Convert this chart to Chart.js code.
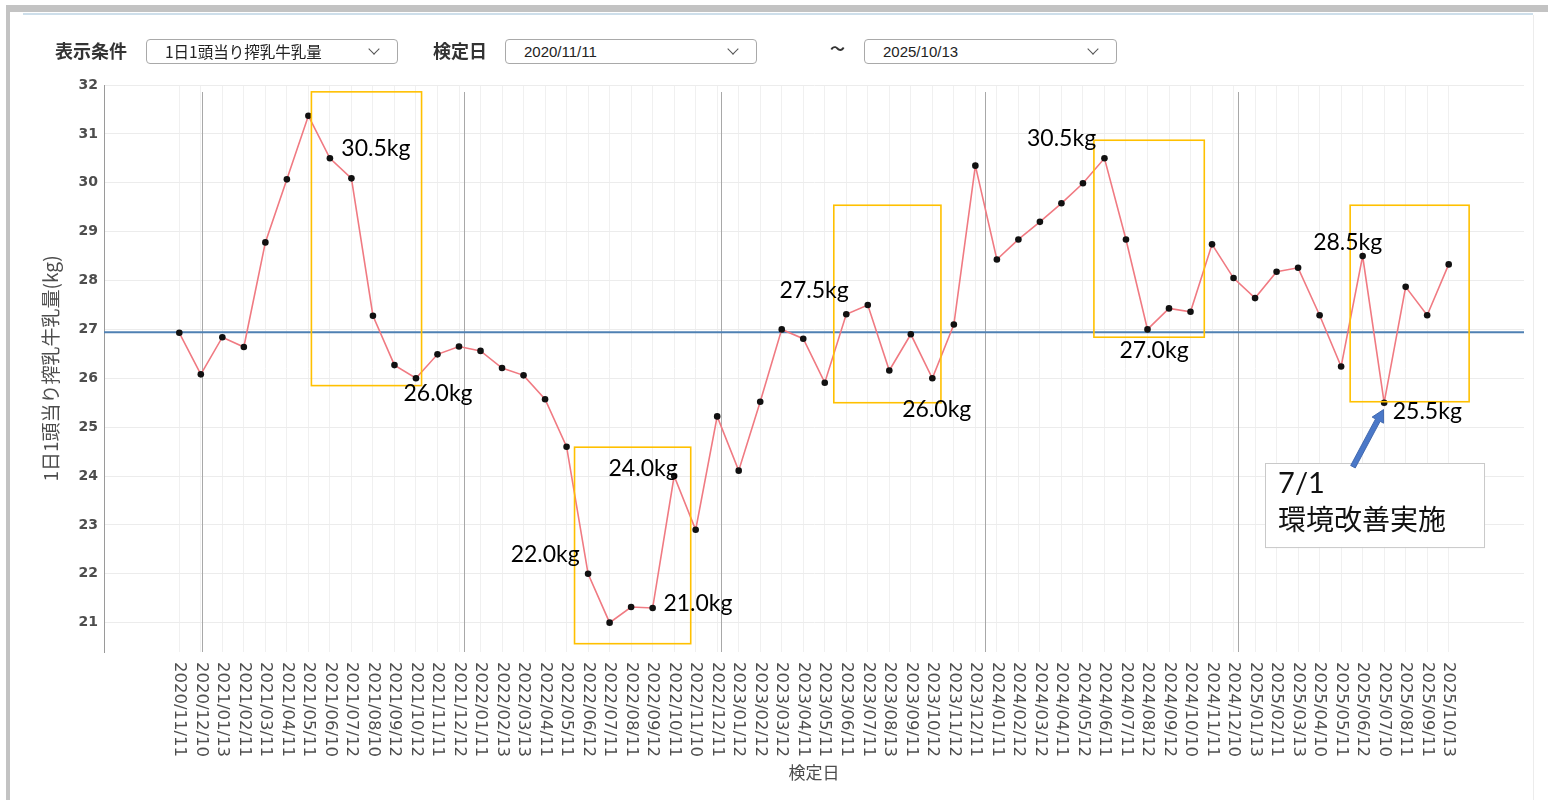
<!DOCTYPE html>
<html lang="ja">
<head>
<meta charset="utf-8">
<title>1日1頭当り搾乳牛乳量</title>
<script src="https://cdn.jsdelivr.net/npm/chart.js@4.4.1/dist/chart.umd.min.js"></script>
<style>
  html, body { margin: 0; padding: 0; background: #fff; }
  body { position: relative; width: 1548px; height: 800px; overflow: hidden; font-family: "Noto Sans CJK JP", sans-serif; }
  .frame-top { position: absolute; left: 6px; top: 5px; right: 0; height: 7px; background: #c3c3c3; }
  .frame-left { position: absolute; left: 6px; top: 5px; bottom: 0; width: 4px; background: #c3c3c3; }
  .rule-blue { position: absolute; left: 23px; top: 13px; width: 1510px; height: 2px; background: #cddeea; }
  .rule-right { position: absolute; left: 1533px; top: 15px; bottom: 0; width: 1px; background: #ececec; }
  #chart { position: absolute; left: 0; top: 0; }
  .lbl { position: absolute; top: 37px; line-height: 26px; font-size: 18px; font-weight: bold; color: #333; z-index: 2; }
  .sel { position: absolute; top: 39px; height: 23px; border: 1px solid #a9a9a9; border-radius: 4px; background: #fff;
         line-height: 23px; color: #222; z-index: 2; box-sizing: content-box; }
  .sel .txt { position: absolute; left: 18px; top: 0; }
  .sel.cond .txt { font-size: 15.5px; }
  .sel.date .txt { font-family: "Liberation Sans", Arial, sans-serif; font-size: 15px; }
  .sel .chev { position: absolute; right: 19px; top: 5px; width: 7px; height: 7px;
               border-right: 1.5px solid #555; border-bottom: 1.5px solid #555; transform: rotate(45deg); }
  .tilde { position: absolute; left: 830px; top: 37px; font-size: 15px; font-weight: bold; color: #333; z-index: 2; }
</style>
</head>
<body>
<div class="frame-top"></div>
<div class="frame-left"></div>
<div class="rule-blue"></div>
<div class="rule-right"></div>

<div class="lbl" style="left:55px">表示条件</div>
<div class="sel cond" style="left:146px; width:250px"><span class="txt">1日1頭当り搾乳牛乳量</span><span class="chev"></span></div>
<div class="lbl" style="left:433px">検定日</div>
<div class="sel date" style="left:505px; width:250px"><span class="txt">2020/11/11</span><span class="chev"></span></div>
<div class="tilde">～</div>
<div class="sel date" style="left:864px; width:251px"><span class="txt">2025/10/13</span><span class="chev"></span></div>

<canvas id="chart" width="1548" height="800"></canvas>

<script>
// 検定日
const dates = [
  "2020/11/11", "2020/12/10",
  "2021/01/13", "2021/02/11", "2021/03/11", "2021/04/11", "2021/05/11", "2021/06/10",
  "2021/07/12", "2021/08/10", "2021/09/12", "2021/10/12", "2021/11/11", "2021/12/12",
  "2022/01/11", "2022/02/13", "2022/03/13", "2022/04/11", "2022/05/11", "2022/06/12",
  "2022/07/11", "2022/08/11", "2022/09/12", "2022/10/11", "2022/11/10", "2022/12/11",
  "2023/01/12", "2023/02/12", "2023/03/12", "2023/04/11", "2023/05/11", "2023/06/11",
  "2023/07/11", "2023/08/13", "2023/09/11", "2023/10/12", "2023/11/12", "2023/12/11",
  "2024/01/11", "2024/02/12", "2024/03/12", "2024/04/11", "2024/05/12", "2024/06/11",
  "2024/07/11", "2024/08/12", "2024/09/12", "2024/10/10", "2024/11/11", "2024/12/10",
  "2025/01/13", "2025/02/11", "2025/03/13", "2025/04/10", "2025/05/11", "2025/06/12",
  "2025/07/10", "2025/08/11", "2025/09/11", "2025/10/13"
];

// 1日1頭当り搾乳牛乳量 (kg)
const milk = [
  26.93, 26.08,
  26.84, 26.64, 28.78, 30.07, 31.37, 30.5,
  30.09, 27.28, 26.27, 26.0, 26.49, 26.65,
  26.56, 26.21, 26.06, 25.57, 24.60, 22.0,
  21.0, 21.32, 21.30, 24.0, 22.90, 25.22,
  24.11, 25.52, 27.0, 26.81, 25.91, 27.31,
  27.5, 26.16, 26.90, 26.0, 27.10, 30.35,
  28.43, 28.84, 29.20, 29.58, 29.99, 30.5,
  28.84, 27.0, 27.43, 27.36, 28.74, 28.05,
  27.64, 28.18, 28.26, 27.29, 26.24, 28.5,
  25.5, 27.87, 27.29, 28.33
];

const yTicks = [21, 22, 23, 24, 25, 26, 27, 28, 29, 30, 31, 32];

// 年の区切り線 (検定日インデックス上の位置)
const yearMarks = [1.07, 13.21, 25.16, 37.44, 49.21];

// 黄色の囲み: 検定日インデックスの範囲と kg の範囲
const boxFrom = [6.14, 18.37, 30.42, 42.51, 54.42];
const boxTo = [11.26, 23.77, 35.40, 47.64, 59.95];
const boxHigh = [31.86, 24.59, 29.54, 30.87, 29.54];
const boxLow = [25.85, 20.57, 25.50, 26.84, 25.52];

// 値ラベルを付ける検定日と、ラベルの置き場所
const notePoint = [7, 11, 19, 20, 23, 32, 35, 43, 45, 55, 56];
const noteX = [7.53, 10.42, 15.40, 22.50, 19.95, 27.90, 33.60, 39.40, 43.70, 52.70, 56.40];
const noteY = [30.69, 25.69, 22.39, 21.39, 24.15, 27.80, 25.36, 30.91, 26.57, 28.78, 25.31];

// 吹き出し「7/1 環境改善実施」
const memoLines = ["7/1", "環境改善実施"];
const memoBox = { x0: 50.47, x1: 60.65, yTop: 24.27, yBottom: 22.55 };
const memoText = { x: 51.07, y: [23.84, 23.12] };
const memoArrow = { from: [54.55, 24.19], to: [55.97, 25.36] };

const average = milk.reduce((a, b) => a + b, 0) / milk.length;
const xMin = -3.5;
const xMax = dates.length - 1 + 3.5;

const overlay = {
  id: 'overlay',
  beforeDatasetsDraw(chart) {
    const { ctx, chartArea, scales: { x } } = chart;
    ctx.save();
    ctx.strokeStyle = '#a8a8a8';
    ctx.lineWidth = 1;
    yearMarks.forEach(m => {
      const px = Math.round(x.getPixelForValue(m)) + 0.5;
      ctx.beginPath();
      ctx.moveTo(px, chartArea.top + 7);
      ctx.lineTo(px, chartArea.bottom);
      ctx.stroke();
    });
    ctx.restore();
  },
  afterDatasetsDraw(chart) {
    const { ctx, scales: { x, y } } = chart;
    ctx.save();

    // 囲み枠
    ctx.strokeStyle = '#ffc000';
    ctx.lineWidth = 1.6;
    boxFrom.forEach((b, i) => {
      const l = x.getPixelForValue(b), r = x.getPixelForValue(boxTo[i]);
      const t = y.getPixelForValue(boxHigh[i]), btm = y.getPixelForValue(boxLow[i]);
      ctx.strokeRect(l, t, r - l, btm - t);
    });

    // 値ラベル
    ctx.fillStyle = '#000';
    ctx.font = '23px Lato, "Noto Sans", sans-serif';
    ctx.textAlign = 'left';
    ctx.textBaseline = 'middle';
    notePoint.forEach((p, i) => {
      ctx.fillText(milk[p].toFixed(1) + 'kg', x.getPixelForValue(noteX[i]), y.getPixelForValue(noteY[i]));
    });

    // 吹き出し
    const bl = x.getPixelForValue(memoBox.x0), br = x.getPixelForValue(memoBox.x1);
    const bt = y.getPixelForValue(memoBox.yTop), bb = y.getPixelForValue(memoBox.yBottom);
    ctx.fillStyle = '#fff';
    ctx.fillRect(bl, bt, br - bl, bb - bt);
    ctx.strokeStyle = '#c9c9c9';
    ctx.lineWidth = 1;
    ctx.strokeRect(Math.round(bl) + 0.5, Math.round(bt) + 0.5, br - bl, bb - bt);
    ctx.fillStyle = '#111';
    ctx.font = '29px Lato, "Noto Sans CJK JP", sans-serif';
    ctx.fillText(memoLines[0], x.getPixelForValue(memoText.x), y.getPixelForValue(memoText.y[0]));
    ctx.font = '28px "Noto Sans CJK JP", sans-serif';
    ctx.fillText(memoLines[1], x.getPixelForValue(memoText.x), y.getPixelForValue(memoText.y[1]));

    // 矢印
    const x0 = x.getPixelForValue(memoArrow.from[0]), y0 = y.getPixelForValue(memoArrow.from[1]);
    const x1 = x.getPixelForValue(memoArrow.to[0]), y1 = y.getPixelForValue(memoArrow.to[1]);
    const ang = Math.atan2(y1 - y0, x1 - x0);
    const len = Math.hypot(x1 - x0, y1 - y0);
    ctx.translate(x0, y0);
    ctx.rotate(ang);
    const head = 12, half = 2.6, wing = 6.5;
    ctx.beginPath();
    ctx.moveTo(0, -half);
    ctx.lineTo(len - head, -half);
    ctx.lineTo(len - head, -wing);
    ctx.lineTo(len, 0);
    ctx.lineTo(len - head, wing);
    ctx.lineTo(len - head, half);
    ctx.lineTo(0, half);
    ctx.closePath();
    ctx.fillStyle = '#4a78c8';
    ctx.fill();
    ctx.strokeStyle = '#3a62a8';
    ctx.lineWidth = 0.8;
    ctx.stroke();
    ctx.restore();
  },
  afterDraw(chart) {
    const { ctx, chartArea, scales: { x } } = chart;
    ctx.save();
    // 縦書きの検定日ラベル (上から下へ読む)
    ctx.fillStyle = '#4d4d4d';
    ctx.font = '16.5px "DejaVu Sans", sans-serif';
    ctx.textAlign = 'left';
    ctx.textBaseline = 'middle';
    dates.forEach((d, i) => {
      ctx.save();
      ctx.translate(x.getPixelForValue(i), chartArea.bottom + 10);
      ctx.rotate(Math.PI / 2);
      ctx.fillText(d, 0, 0);
      ctx.restore();
    });
    ctx.font = '17px "Noto Sans CJK JP", sans-serif';
    ctx.textAlign = 'center';
    ctx.fillText('検定日', (chartArea.left + chartArea.right) / 2, 773);
    ctx.restore();
  }
};

new Chart(document.getElementById('chart'), {
  type: 'line',
  data: {
    datasets: [
      {
        label: '1日1頭当り搾乳牛乳量',
        data: milk.map((v, i) => ({ x: i, y: v })),
        borderColor: 'rgb(240, 122, 130)',
        borderWidth: 1.6,
        pointRadius: 3.3,
        pointBackgroundColor: '#111',
        pointBorderWidth: 0,
        tension: 0,
        order: 1
      },
      {
        label: '平均',
        data: [{ x: xMin, y: average }, { x: xMax, y: average }],
        borderColor: '#4f81b3',
        borderWidth: 2,
        pointRadius: 0,
        order: 2
      }
    ]
  },
  options: {
    responsive: false,
    animation: false,
    layout: { padding: { left: 0, top: 85, right: 24, bottom: 148 } },
    plugins: { legend: { display: false }, tooltip: { enabled: false } },
    scales: {
      x: {
        type: 'linear',
        min: xMin,
        max: xMax,
        afterBuildTicks: s => { s.ticks = dates.map((_, i) => ({ value: i })); },
        ticks: { display: false },
        grid: { color: '#f0f0f0', drawTicks: false },
        border: { display: false }
      },
      y: {
        min: 20.4,
        max: 32,
        afterBuildTicks: s => { s.ticks = yTicks.map(v => ({ value: v })); },
        afterFit: s => { s.width = 104; },
        ticks: { color: '#4d4d4d', padding: 6, font: { family: '"DejaVu Sans", sans-serif', size: 14, weight: 'bold' } },
        grid: { color: '#ececec', drawTicks: false },
        border: { color: '#9a9a9a', width: 1 },
        title: {
          display: true,
          text: '1日1頭当り搾乳牛乳量(kg)',
          color: '#4d4d4d',
          font: { family: '"Noto Sans CJK JP", sans-serif', size: 19 },
          padding: { top: 39, bottom: 0 }
        }
      }
    }
  },
  plugins: [overlay]
});
</script>
</body>
</html>
